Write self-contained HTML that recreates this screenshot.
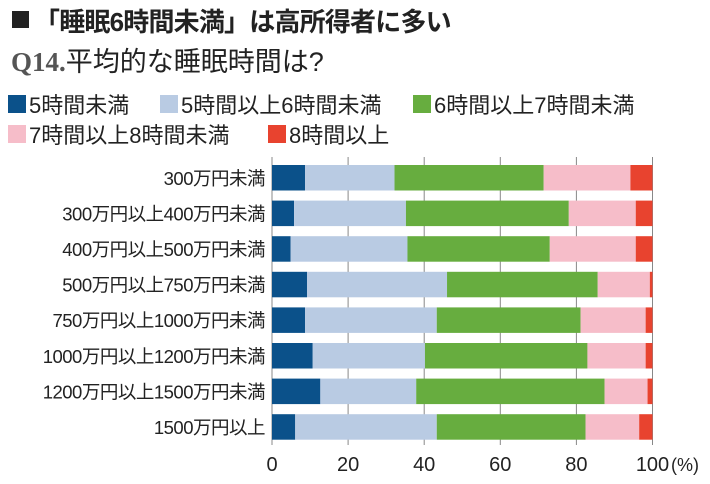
<!DOCTYPE html>
<html><head><meta charset="utf-8">
<style>
body{margin:0;background:#fff;width:710px;height:484px;overflow:hidden;font-family:"Liberation Sans","Noto Sans CJK JP",sans-serif;color:#222}
.t{position:absolute;white-space:nowrap}
.sq{position:absolute;width:17px;height:17px}
</style></head><body>
<div class="sq" style="left:12px;top:11px;background:#222"></div>
<div class="t" style="left:34px;top:2px;font-size:26px;font-weight:bold;letter-spacing:-0.8px">「睡眠6時間未満」は高所得者に多い</div>
<div class="t" style="left:11px;top:40px;font-size:27px"><span style="font-family:'Liberation Serif',serif;font-weight:bold;color:#555">Q14.</span>平均的な睡眠時間は?</div>
<div id="legend"></div>
<svg id="chart" width="710" height="484" style="position:absolute;left:0;top:0"></svg>
<script>
const categories=["300万円未満","300万円以上400万円未満","400万円以上500万円未満","500万円以上750万円未満","750万円以上1000万円未満","1000万円以上1200万円未満","1200万円以上1500万円未満","1500万円以上"];
const seriesNames=["5時間未満","5時間以上6時間未満","6時間以上7時間未満","7時間以上8時間未満","8時間以上"];
const s1=[8.7,5.8,4.9,9.2,8.7,10.7,12.7,6.1];
const s2=[23.5,29.4,30.7,36.8,34.6,29.5,25.2,37.2];
const s3=[39.2,42.8,37.4,39.6,37.8,42.7,49.5,39.1];
const s4=[22.8,17.6,22.6,13.7,17.1,15.3,11.3,14.1];
const s5=[5.8,4.4,4.4,0.7,1.8,1.8,1.3,3.5];
const ticks=[0,20,40,60,80,100];
const colors=["#0b518a","#b9cbe3","#67ad3f","#f6bdc9","#e8432f"];
const series=[s1,s2,s3,s4,s5];
const NS="http://www.w3.org/2000/svg";
const svg=document.getElementById('chart');
const x0=272,x1=652.5,top0=165,step=35.6,bh=25.5;
const xs=v=>x0+(x1-x0)*v/100;
const ys=i=>top0+i*step;
function mk(tag,at){const e=document.createElementNS(NS,tag);for(const k in at)e.setAttribute(k,at[k]);svg.appendChild(e);return e;}
ticks.forEach(t=>{
  const l=mk('line',{x1:xs(t),x2:xs(t),y1:157,y2:445,stroke:'#888','stroke-width':1});
  
  
  const tx=mk('text',{x:xs(t),y:471,'text-anchor':'middle','font-size':20,fill:'#222'});
  tx.textContent=t;
  
  
});
const pu=mk('text',{x:671,y:471,'font-size':18,fill:'#222'});pu.textContent='(%)';


categories.forEach((c,i)=>{
  const tx=mk('text',{x:265,y:ys(i)+bh/2+7,'text-anchor':'end','font-size':18.5,fill:'#222','letter-spacing':'-0.5'});
  tx.textContent=c;
  
  
  let acc=0;
  series.forEach((s,j)=>{
    const r=mk('rect',{x:xs(acc),y:ys(i),width:xs(acc+s[i])-xs(acc),height:bh,fill:colors[j]});
    
    
    acc+=s[i];
  });
});
const lg=document.getElementById('legend');
const lpos=[[8,88],[160,88],[413,88],[8,118],[268,118]];
seriesNames.forEach((n,j)=>{
  const d=document.createElement('div');
  d.className='t';
  d.style.cssText=`left:${lpos[j][0]}px;top:${lpos[j][1]}px;font-size:22px;display:flex;align-items:center`;
  d.innerHTML=`<span style="display:inline-block;width:18px;height:18px;background:${colors[j]};margin-right:3px"></span>${n}`;
  
  
  lg.appendChild(d);
});
</script>
</body></html>
